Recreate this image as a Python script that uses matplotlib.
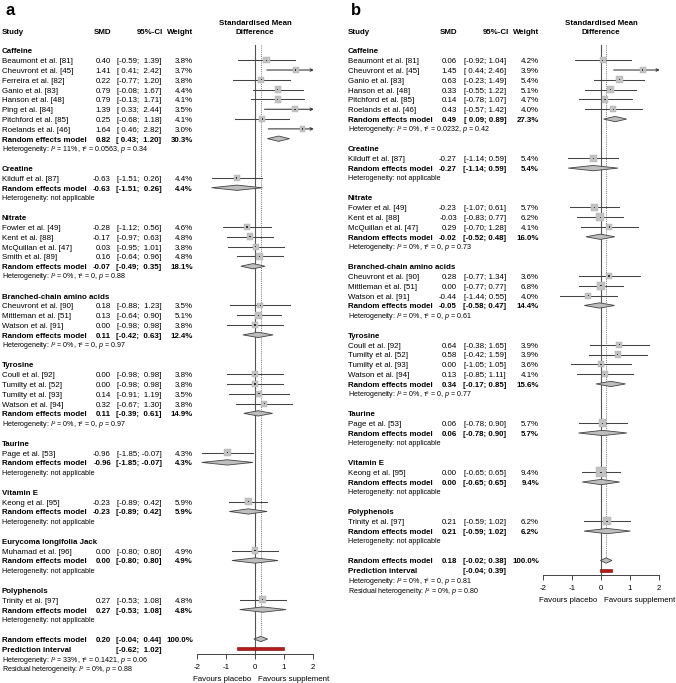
import numpy as np
import matplotlib
matplotlib.use('Agg')
import matplotlib.pyplot as plt
from matplotlib import transforms

plt.rcParams['font.family'] = ['Liberation Sans', 'DejaVu Sans']
plt.rcParams['mathtext.fontset'] = 'custom'
plt.rcParams['mathtext.rm'] = 'Liberation Sans'
plt.rcParams['mathtext.it'] = 'Liberation Sans:italic'
plt.rcParams['axes.unicode_minus'] = False

# ---------------- panel a ----------------
a_groups = ['Caffeine', 'Creatine', 'Nitrate', 'Branched-chain amino acids', 'Tyrosine',
            'Taurine', 'Vitamin E', 'Eurycoma longifolia Jack', 'Polyphenols']
a_group_of = [0]*8 + [1] + [2]*4 + [3]*3 + [4]*4 + [5] + [6] + [7] + [8]
a_study = ['Beaumont et al. [81]', 'Cheuvront et al. [45]', 'Ferreira et al. [82]', 'Ganio et al. [83]',
           'Hanson et al. [48]', 'Ping et al. [84]', 'Pitchford et al. [85]', 'Roelands et al. [46]',
           'Kilduff et al. [87]',
           'Fowler et al. [49]', 'Kent et al. [88]', 'McQuillan et al. [47]', 'Smith et al. [89]',
           'Cheuvront et al. [90]', 'Mittleman et al. [51]', 'Watson et al. [91]',
           'Coull et al. [92]', 'Tumilty et al. [52]', 'Tumilty et al. [93]', 'Watson et al. [94]',
           'Page et al. [53]', 'Keong et al. [95]', 'Muhamad et al. [96]', 'Trinity et al. [97]']
a_smd = [0.40, 1.41, 0.22, 0.79, 0.79, 1.39, 0.25, 1.64, -0.63, -0.28, -0.17, 0.03, 0.16,
         0.18, 0.13, 0.00, 0.00, 0.00, 0.14, 0.32, -0.96, -0.23, 0.00, 0.27]
a_lo = [-0.59, 0.41, -0.77, -0.08, -0.13, 0.33, -0.68, 0.46, -1.51, -1.12, -0.97, -0.95, -0.64,
        -0.88, -0.64, -0.98, -0.98, -0.98, -0.91, -0.67, -1.85, -0.89, -0.80, -0.53]
a_hi = [1.39, 2.42, 1.20, 1.67, 1.71, 2.44, 1.18, 2.82, 0.26, 0.56, 0.63, 1.01, 0.96,
        1.23, 0.90, 0.98, 0.98, 0.98, 1.19, 1.30, -0.07, 0.42, 0.80, 1.08]
a_wt = [3.8, 3.7, 3.8, 4.4, 4.1, 3.5, 4.1, 3.0, 4.4, 4.6, 4.8, 3.8, 4.8,
        3.5, 5.1, 3.8, 3.8, 3.8, 3.5, 3.8, 4.3, 5.9, 4.9, 4.8]
a_re_smd = [0.82, -0.63, -0.07, 0.11, 0.11, -0.96, -0.23, 0.00, 0.27]
a_re_lo = [0.43, -1.51, -0.49, -0.42, -0.39, -1.85, -0.89, -0.80, -0.53]
a_re_hi = [1.20, 0.26, 0.35, 0.63, 0.61, -0.07, 0.42, 0.80, 1.08]
a_re_wt = [30.3, 4.4, 18.1, 12.4, 14.9, 4.3, 5.9, 4.9, 4.8]
a_het = ['$I$² = 11%, τ² = 0.0563, $p$ = 0.34', 'not applicable',
         '$I$² = 0%, τ² = 0, $p$ = 0.88', '$I$² = 0%, τ² = 0, $p$ = 0.97',
         '$I$² = 0%, τ² = 0, $p$ = 0.97', 'not applicable', 'not applicable',
         'not applicable', 'not applicable']
a_overall = [0.20, -0.04, 0.44]
a_pi = [-0.62, 1.02]
a_het_all = 'Heterogeneity: $I$² = 33%, τ² = 0.1421, $p$ = 0.06'
a_het_res = 'Residual heterogeneity: $I$² = 0%, $p$ = 0.88'

# ---------------- panel b ----------------
b_groups = ['Caffeine', 'Creatine', 'Nitrate', 'Branched-chain amino acids', 'Tyrosine',
            'Taurine', 'Vitamin E', 'Polyphenols']
b_group_of = [0]*6 + [1] + [2]*3 + [3]*3 + [4]*4 + [5] + [6] + [7]
b_study = ['Beaumont et al. [81]', 'Cheuvront et al. [45]', 'Ganio et al. [83]', 'Hanson et al. [48]',
           'Pitchford et al. [85]', 'Roelands et al. [46]',
           'Kilduff et al. [87]',
           'Fowler et al. [49]', 'Kent et al. [88]', 'McQuillan et al. [47]',
           'Cheuvront et al. [90]', 'Mittleman et al. [51]', 'Watson et al. [91]',
           'Coull et al. [92]', 'Tumilty et al. [52]', 'Tumilty et al. [93]', 'Watson et al. [94]',
           'Page et al. [53]', 'Keong et al. [95]', 'Trinity et al. [97]']
b_smd = [0.06, 1.45, 0.63, 0.33, 0.14, 0.43, -0.27, -0.23, -0.03, 0.29,
         0.28, 0.00, -0.44, 0.64, 0.58, 0.00, 0.13, 0.06, 0.00, 0.21]
b_lo = [-0.92, 0.44, -0.23, -0.55, -0.78, -0.57, -1.14, -1.07, -0.83, -0.70,
        -0.77, -0.77, -1.44, -0.38, -0.42, -1.05, -0.85, -0.78, -0.65, -0.59]
b_hi = [1.04, 2.46, 1.49, 1.22, 1.07, 1.42, 0.59, 0.61, 0.77, 1.28,
        1.34, 0.77, 0.55, 1.65, 1.59, 1.05, 1.11, 0.90, 0.65, 1.02]
b_wt = [4.2, 3.9, 5.4, 5.1, 4.7, 4.0, 5.4, 5.7, 6.2, 4.1,
        3.6, 6.8, 4.0, 3.9, 3.9, 3.6, 4.1, 5.7, 9.4, 6.2]
b_re_smd = [0.49, -0.27, -0.02, -0.05, 0.34, 0.06, 0.00, 0.21]
b_re_lo = [0.09, -1.14, -0.52, -0.58, -0.17, -0.78, -0.65, -0.59]
b_re_hi = [0.89, 0.59, 0.48, 0.47, 0.85, 0.90, 0.65, 1.02]
b_re_wt = [27.3, 5.4, 16.0, 14.4, 15.6, 5.7, 9.4, 6.2]
b_het = ['$I$² = 0%, τ² = 0.0232, $p$ = 0.42', 'not applicable',
         '$I$² = 0%, τ² = 0, $p$ = 0.73', '$I$² = 0%, τ² = 0, $p$ = 0.61',
         '$I$² = 0%, τ² = 0, $p$ = 0.77', 'not applicable', 'not applicable',
         'not applicable']
b_overall = [0.18, -0.02, 0.38]
b_pi = [-0.04, 0.39]
b_het_all = 'Heterogeneity: $I$² = 0%, τ² = 0, $p$ = 0.81'
b_het_res = 'Residual heterogeneity: $I$² = 0%, $p$ = 0.80'

W, H = 676, 683
FS, FSH = 5.7, 5.1        # main / heterogeneity text size (pt)
ROW0, ROWH = 50.4, 9.81   # pixel y of row 0, row height in px
UNIT = 28.8               # px per SMD unit

fig = plt.figure(figsize=(W/100, H/100), dpi=100)


def fmt_ci(lo, hi, pad_hi):
    s_lo = ('%.2f' % lo) if lo < 0 else (' %.2f' % lo)
    s_hi = ('%.2f' % hi) if (hi < 0 or not pad_hi) else (' %.2f' % hi)
    return '[%s; %s]' % (s_lo, s_hi)


def panel(off, zero_px, label, groups, group_of, study, smd, lo, hi, wt,
          re_smd, re_lo, re_hi, re_wt, het, overall, pi, het_all, het_res):
    ax = fig.add_axes([(zero_px - 2.6*UNIT)/W, 0, 5.2*UNIT/W, 1])
    ax.patch.set_visible(False)
    ax.set_xlim(-2.6, 2.6)
    ax.set_ylim((H - ROW0)/ROWH, -ROW0/ROWH)
    tr = transforms.blended_transform_factory(fig.transFigure, ax.transData)
    pad_hi = min(hi + re_hi) < 0

    def txt(xpx, row, s, ha='left', bold=False, fs=FS):
        ax.text((off + xpx)/W, row + 0.3, s, transform=tr, ha=ha, va='baseline',
                fontsize=fs, fontweight='bold' if bold else 'normal')

    def row_text(row, name, e, l, h, w, bold=False):
        txt(2, row, name, bold=bold)
        txt(111, row, '%.2f' % e, ha='right', bold=bold)
        txt(139, row, fmt_ci(l, h, pad_hi), ha='center', bold=bold)
        txt(193, row, '%.1f%%' % w, ha='right', bold=bold)

    def diamond(row, e, l, h):
        ax.fill([l, e, h, e], [row, row - 0.27, row, row + 0.27], facecolor='#bebebe',
                edgecolor='#444444', lw=0.6, zorder=3)

    # headers
    ax.text((off + 5)/W, -4.1, label, transform=tr, fontsize=12,
            fontweight='bold', va='center', ha='left')
    txt(2, -2, 'Study', bold=True)
    txt(111, -2, 'SMD', ha='right', bold=True)
    txt(163, -2, '95%-CI', ha='right', bold=True)
    txt(193, -2, 'Weight', ha='right', bold=True)
    ax.text(0, -2.9 + 0.3, 'Standardised Mean', ha='center', va='baseline', fontsize=FS, fontweight='bold')
    ax.text(0, -2 + 0.3, 'Difference', ha='center', va='baseline', fontsize=FS, fontweight='bold')

    rows = []
    row = 0
    for g, gname in enumerate(groups):
        txt(2, row, gname, bold=True)
        row += 1
        for i in range(len(study)):
            if group_of[i] != g:
                continue
            row_text(row, study[i], smd[i], lo[i], hi[i], wt[i])
            rows.append(row)
            row += 1
        row_text(row, 'Random effects model', re_smd[g], re_lo[g], re_hi[g], re_wt[g], bold=True)
        diamond(row, re_smd[g], re_lo[g], re_hi[g])
        row += 1
        txt(2, row - 0.05, 'Heterogeneity: ' + het[g], fs=FSH)
        row += 2
    ov_row = row
    row_text(ov_row, 'Random effects model', overall[0], overall[1], overall[2], 100.0, bold=True)
    diamond(ov_row, *overall)
    txt(2, ov_row + 1, 'Prediction interval', bold=True)
    txt(139, ov_row + 1, fmt_ci(pi[0], pi[1], pad_hi), ha='center', bold=True)
    txt(2, ov_row + 2, het_all, fs=FSH)
    txt(2, ov_row + 3, het_res, fs=FSH)
    ax.barh(ov_row + 1, pi[1] - pi[0], left=pi[0], height=0.34, color='#b31b1b',
            edgecolor='#7a0000', lw=0.4, zorder=3)

    # study CIs and squares
    rows = np.array(rows)
    for r, l, h in zip(rows, lo, hi):
        if h > 2:
            ax.annotate('', xy=(2.04, r), xytext=(l, r),
                        arrowprops=dict(arrowstyle='->', lw=0.75, color='#333333',
                                        mutation_scale=4.5, shrinkA=0, shrinkB=0))
        else:
            ax.plot([max(l, -2), h], [r, r], color='#444444', lw=0.75, zorder=2)
    side_pt = 3.1*np.sqrt(np.array(wt))*0.72
    ax.scatter(smd, rows, marker='s', s=side_pt**2, color='#c2c2c2', edgecolors='#b0b0b0',
               linewidths=0.3, zorder=3)
    ax.scatter(smd, rows, marker='s', s=0.8, color='#333333', edgecolors='none', zorder=4)

    axis_row = ov_row + 1.5
    ax.plot([0, 0], [-0.55, axis_row], color='#555555', lw=0.8, zorder=1)
    ax.plot([overall[0], overall[0]], [-0.55, ov_row - 0.3], color='#777777', lw=0.7,
            ls=(0, (1, 1.2)), zorder=1)

    for s in ['top', 'right', 'left']:
        ax.spines[s].set_visible(False)
    ax.spines['bottom'].set_position(('data', axis_row))
    ax.spines['bottom'].set_bounds(-2, 2)
    ax.spines['bottom'].set_linewidth(0.7)
    ax.spines['bottom'].set_color('#444444')
    ax.set_xticks([-2, -1, 0, 1, 2])
    ax.set_xticklabels(['-2', '-1', '0', '1', '2'])
    ax.set_yticks([])
    ax.tick_params(axis='x', direction='out', length=3.3, width=0.7, color='#444444',
                   labelsize=FS, pad=4)
    ax.text(-0.12, axis_row + 2.45 + 0.3, 'Favours placebo', ha='right', va='baseline', fontsize=FS)
    ax.text(0.12, axis_row + 2.45 + 0.3, 'Favours supplement', ha='left', va='baseline', fontsize=FS)


panel(0, 255, 'a', a_groups, a_group_of, a_study, a_smd, a_lo, a_hi, a_wt,
      a_re_smd, a_re_lo, a_re_hi, a_re_wt, a_het, a_overall, a_pi, a_het_all, a_het_res)
panel(346, 601, 'b', b_groups, b_group_of, b_study, b_smd, b_lo, b_hi, b_wt,
      b_re_smd, b_re_lo, b_re_hi, b_re_wt, b_het, b_overall, b_pi, b_het_all, b_het_res)

fig.savefig('out.png', dpi=100)
